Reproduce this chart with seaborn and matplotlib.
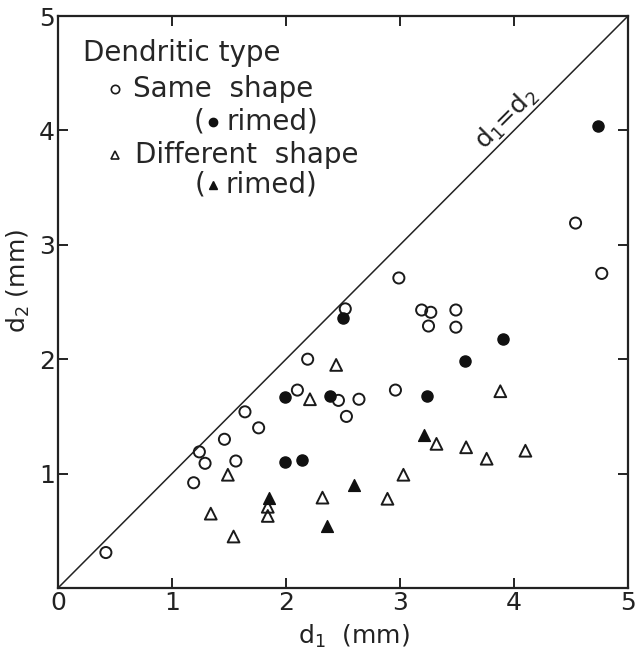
import pandas as pd
import seaborn as sns
import matplotlib
matplotlib.use('Agg')
import matplotlib.pyplot as plt

sns.set_style("ticks")
plt.rcParams['font.family'] = ['DejaVu Sans']
plt.rcParams['mathtext.default'] = 'regular'

# Same shape (open circles)
same_d1 = [0.42, 1.19, 1.24, 1.29, 1.46, 1.56, 1.64, 1.76, 2.10, 2.19, 2.46, 2.52,
           2.53, 2.64, 2.96, 2.99, 3.19, 3.27, 3.25, 3.49, 3.49, 4.54, 4.77]
same_d2 = [0.31, 0.92, 1.19, 1.09, 1.30, 1.11, 1.54, 1.40, 1.73, 2.00, 1.64, 2.44,
           1.50, 1.65, 1.73, 2.71, 2.43, 2.41, 2.29, 2.43, 2.28, 3.19, 2.75]

# Same shape, rimed (filled circles)
same_rimed_d1 = [1.99, 1.99, 2.14, 2.39, 2.50, 3.24, 3.57, 3.90, 4.74]
same_rimed_d2 = [1.67, 1.10, 1.12, 1.68, 2.36, 1.68, 1.98, 2.18, 4.04]

# Different shape (open triangles)
diff_d1 = [1.34, 1.49, 1.54, 1.84, 1.84, 2.21, 2.32, 2.44, 2.89, 3.03, 3.32, 3.58,
           3.76, 3.88, 4.10]
diff_d2 = [0.65, 0.99, 0.45, 0.71, 0.63, 1.65, 0.79, 1.95, 0.78, 0.99, 1.26, 1.23,
           1.13, 1.72, 1.20]

# Different shape, rimed (filled triangles)
diff_rimed_d1 = [1.85, 2.36, 2.60, 3.21]
diff_rimed_d2 = [0.79, 0.54, 0.90, 1.34]

ticks = [0, 1, 2, 3, 4, 5]

fs = 18
lfs = 20

fig = plt.figure(figsize=(6.37, 6.48), dpi=100)
ax = fig.add_axes([58/637, 60/648, 570/637, 572/648])

# d1 = d2 line
ax.plot([ticks[0], ticks[-1]], [ticks[0], ticks[-1]], color='#222222', lw=1.1, zorder=1)
ax.text(4.02, 4.02, r'd$_1$=d$_2$', rotation=45, rotation_mode='anchor',
        ha='center', va='bottom', fontsize=fs, color='#222222')

sns.scatterplot(x=same_d1, y=same_d2, marker='o', s=64, facecolors='none',
                edgecolors='#1a1a1a', linewidth=1.4, ax=ax, zorder=3)
sns.scatterplot(x=same_rimed_d1, y=same_rimed_d2, marker='o', s=64, color='#111111',
                edgecolor='#111111', linewidth=1.0, ax=ax, zorder=3)
sns.scatterplot(x=diff_d1, y=diff_d2, marker='^', s=72, facecolors='none',
                edgecolors='#1a1a1a', linewidth=1.4, ax=ax, zorder=3)
sns.scatterplot(x=diff_rimed_d1, y=diff_rimed_d2, marker='^', s=72, color='#111111',
                edgecolor='#111111', linewidth=1.0, ax=ax, zorder=3)

ax.set_xlim(0, 5)
ax.set_ylim(0, 5)
ax.set_xticks(ticks)
ax.set_yticks(ticks)
ax.set_xticklabels([str(t) for t in ticks])
ax.set_yticklabels([''] + [str(t) for t in ticks[1:]])
ax.tick_params(direction='in', length=7, width=1.4, top=True, right=True,
               labelsize=fs, pad=2, colors='#222222')
for sp in ax.spines.values():
    sp.set_linewidth(1.6)
    sp.set_color('#222222')

ax.set_xlabel(r'd$_1$  (mm)', fontsize=fs, color='#222222')
ax.xaxis.set_label_coords(0.52, -0.06)
ax.set_ylabel(r'd$_2$ (mm)', fontsize=fs, color='#222222')
ax.yaxis.set_label_coords(-0.045, 0.537)

# legend block
tr = ax.transAxes
ax.text(0.044, 0.935, 'Dendritic type', transform=tr, fontsize=lfs, va='center', ha='left')
ax.plot([0.100], [0.872], 'o', ms=6, mfc='none', mec='#1a1a1a', mew=1.2, transform=tr)
ax.text(0.132, 0.872, 'Same  shape', transform=tr, fontsize=lfs, va='center', ha='left')
ax.text(0.238, 0.815, '(', transform=tr, fontsize=lfs, va='center', ha='left')
ax.plot([0.272], [0.815], 'o', ms=6, color='#111111', transform=tr)
ax.text(0.296, 0.815, 'rimed)', transform=tr, fontsize=lfs, va='center', ha='left')
ax.plot([0.100], [0.757], '^', ms=6, mfc='none', mec='#1a1a1a', mew=1.2, transform=tr)
ax.text(0.135, 0.757, 'Different  shape', transform=tr, fontsize=lfs, va='center', ha='left')
ax.text(0.240, 0.705, '(', transform=tr, fontsize=lfs, va='center', ha='left')
ax.plot([0.272], [0.705], '^', ms=6, color='#111111', transform=tr)
ax.text(0.294, 0.705, 'rimed)', transform=tr, fontsize=lfs, va='center', ha='left')

fig.savefig('out.png', dpi=100)
